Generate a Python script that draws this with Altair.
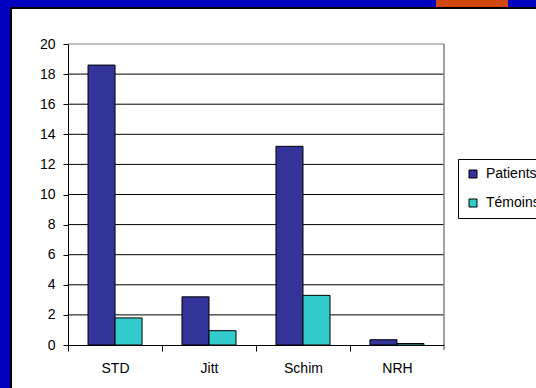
import altair as alt
import pandas as pd

categories = ["STD", "Jitt", "Schim", "NRH"]
series = ["Patients", "Témoins"]
patients = [18.6, 3.2, 13.2, 0.35]
temoins = [1.8, 0.95, 3.3, 0.1]
colors = ["#333399", "#33CCCC"]
y_ticks = list(range(0, 21, 2))

rows = []
for c, p, t in zip(categories, patients, temoins):
    rows.append({"cat": c, "serie": "Patients", "val": p})
    rows.append({"cat": c, "serie": "Témoins", "val": t})
df = pd.DataFrame(rows)
grid_df = pd.DataFrame({"v": y_ticks[1:], "top": [v == 20 for v in y_ticks[1:]]})

FONT = "Liberation Sans"
FS = 14
yscale = alt.Scale(domain=[0, 20], nice=False)
yaxis = alt.Axis(values=y_ticks, grid=False, tickSize=5, labelPadding=8,
                 domainColor="black", tickColor="black", labelFont=FONT,
                 labelFontSize=FS, labelColor="black", zindex=1)

deco = alt.Chart(pd.DataFrame({"a": [0]})).mark_rect(
    fill="#D2460F"
).encode(x=alt.value(368), x2=alt.value(440), y=alt.value(-44), y2=alt.value(-37))

panel = alt.Chart(pd.DataFrame({"a": [0]})).mark_rect(
    fill="white", stroke="black", strokeWidth=2
).encode(
    x=alt.value(-57), x2=alt.value(600), y=alt.value(-36), y2=alt.value(400)
)

grid = alt.Chart(grid_df).mark_rule(strokeWidth=1).encode(
    y=alt.Y("v:Q", scale=yscale, axis=yaxis, title=None),
    color=alt.condition("datum.top", alt.value("#808080"), alt.value("black")),
)

right_border = alt.Chart(pd.DataFrame({"a": [0]})).mark_rule(
    color="#808080", strokeWidth=1.5
).encode(x=alt.value(376), y=alt.value(0), y2=alt.value(306))

bars = alt.Chart(df).mark_bar(stroke="black", strokeWidth=1).encode(
    x=alt.X("cat:N", sort=categories, title=None,
            scale=alt.Scale(paddingInner=0.425, paddingOuter=0.213),
            axis=alt.Axis(labelAngle=0, tickOffset=-47, labelOffset=47, tickSize=6,
                          labelPadding=10, domainColor="black", tickColor="black",
                          labelFont=FONT, labelFontSize=FS, labelColor="black",
                          zindex=1)),
    xOffset=alt.XOffset("serie:N", sort=series),
    y=alt.Y("val:Q", title=None, scale=yscale, axis=yaxis),
    color=alt.Color("serie:N", sort=series, title=None,
                    scale=alt.Scale(domain=series, range=colors),
                    legend=alt.Legend(orient="none", legendX=390, legendY=115,
                                      symbolType="square", symbolSize=64,
                                      symbolStrokeColor="black", symbolStrokeWidth=1,
                                      labelFont=FONT, labelFontSize=FS, labelColor="black",
                                      rowPadding=15, padding=8, labelOffset=6,
                                      strokeColor="black", fillColor="white")),
)

chart = alt.layer(deco, panel, grid, right_border, bars).properties(
    width=376, height=301,
    autosize=alt.AutoSizeParams(type="none"),
    padding={"left": 68, "top": 44, "right": 92, "bottom": 43},
    background="#0000BE",
).configure_view(stroke=None)

chart.save("out.html", embed_options={"renderer": "svg", "actions": False})
